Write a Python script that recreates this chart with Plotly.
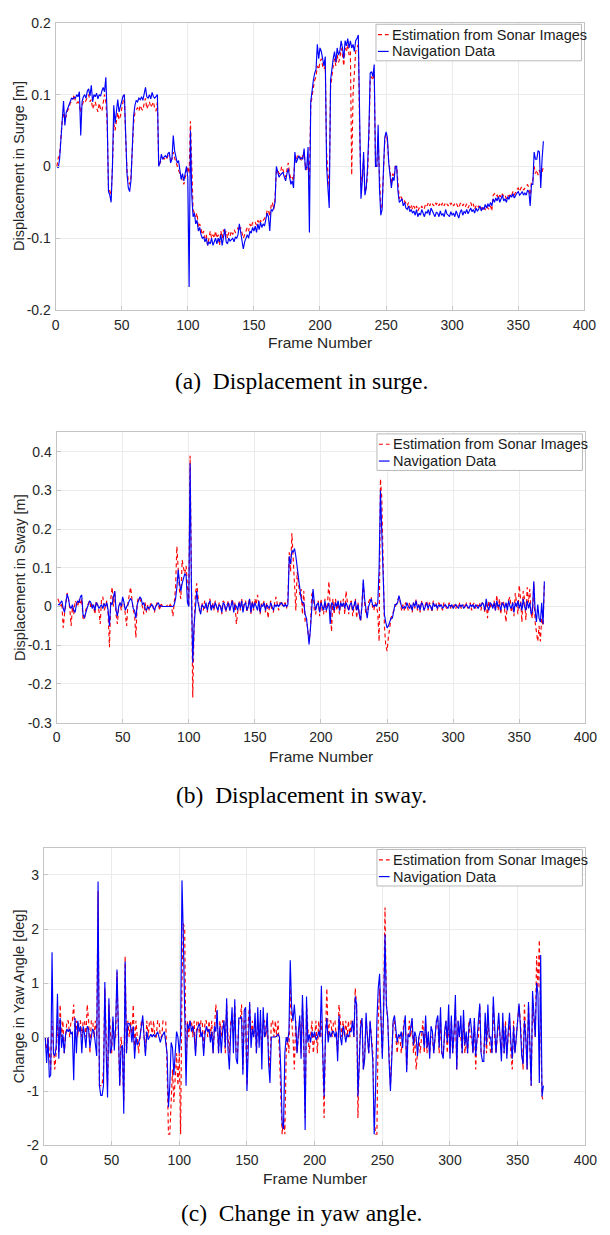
import plotly.graph_objects as go

# ---------------- data (frame-by-frame) ----------------
frames = list(range(1, 370))

surge_nav = [
    0.0, -0.002, 0.01, 0.04, 0.07, 0.091, 0.057, 0.075, 0.08, 0.085,
    0.093, 0.095, 0.094, 0.096, 0.095, 0.1, 0.097, 0.104, 0.043, 0.09,
    0.097, 0.1, 0.095, 0.105, 0.108, 0.098, 0.113, 0.09, 0.1, 0.097,
    0.102, 0.094, 0.1, 0.098, 0.105, 0.11, 0.104, 0.124, 0.07, -0.035,
    -0.04, -0.05, 0.0, 0.085, 0.06, 0.075, 0.093, 0.076, 0.085, 0.09,
    0.098, 0.1, 0.05, -0.01, -0.03, -0.035, -0.02, 0.03, 0.07, 0.085,
    0.092, 0.09, 0.095, 0.093, 0.097, 0.092, 0.1, 0.11, 0.097, 0.095,
    0.1, 0.094, 0.103, 0.097, 0.095, 0.098, 0.1, 0.0, 0.005, 0.017,
    0.01, 0.013, 0.015, 0.012, 0.018, 0.02, 0.005, 0.01, 0.043, 0.022,
    0.015, 0.005, 0.008, -0.005, -0.018, -0.01, -0.02, -0.01, 0.0, -0.015,
    -0.168, 0.05, -0.04, -0.07, -0.065, -0.08, -0.075, -0.09, -0.085, -0.095,
    -0.1, -0.098, -0.105, -0.1, -0.11, -0.105, -0.108, -0.1, -0.11, -0.105,
    -0.1, -0.108, -0.1, -0.105, -0.095, -0.11, -0.1, -0.087, -0.105, -0.108,
    -0.1, -0.104, -0.102, -0.1, -0.105, -0.098, -0.1, -0.095, -0.08, -0.09,
    -0.1, -0.115, -0.105, -0.1, -0.095, -0.1, -0.09, -0.093, -0.085, -0.09,
    -0.083, -0.092, -0.08, -0.088, -0.078, -0.085, -0.08, -0.083, -0.075, -0.065,
    -0.07, -0.09, -0.06, -0.062, -0.058, -0.05, 0.0, -0.01, -0.015, -0.012,
    -0.01, -0.008, -0.015, -0.02, -0.01, -0.003, -0.015, -0.025, -0.02, -0.03,
    0.02, 0.005, 0.01, 0.015, 0.01, 0.012, 0.01, 0.025, -0.005, 0.0,
    0.027, -0.092, 0.09, 0.11, 0.12, 0.13, 0.135, 0.17, 0.15, 0.165,
    0.16, 0.15, 0.14, 0.153, 0.0, -0.03, -0.058, 0.12, 0.14, 0.15,
    0.16, 0.145, 0.165, 0.155, 0.16, 0.175, 0.165, 0.15, 0.175, 0.168,
    0.178, 0.165, 0.175, 0.165, 0.17, 0.16, 0.175, 0.178, 0.183, 0.04,
    -0.045, -0.02, 0.02, -0.04, -0.03, 0.0, 0.05, 0.13, 0.132, 0.125,
    0.142, 0.0, 0.0, 0.058, -0.03, -0.068, -0.06, -0.005, 0.04, 0.048,
    0.04, 0.005, -0.01, -0.03, -0.015, -0.02, 0.0, 0.0, -0.035, -0.05,
    -0.048, -0.045, -0.055, -0.05, -0.058, -0.06, -0.055, -0.063, -0.06, -0.065,
    -0.062, -0.068, -0.06, -0.07, -0.065, -0.068, -0.06, -0.067, -0.07, -0.063,
    -0.065, -0.06, -0.068, -0.058, -0.062, -0.066, -0.07, -0.064, -0.065, -0.07,
    -0.062, -0.068, -0.066, -0.07, -0.06, -0.066, -0.068, -0.07, -0.063, -0.068,
    -0.065, -0.07, -0.062, -0.066, -0.072, -0.064, -0.06, -0.068, -0.063, -0.065,
    -0.06, -0.066, -0.062, -0.058, -0.063, -0.06, -0.065, -0.058, -0.062, -0.06,
    -0.055, -0.062, -0.057, -0.06, -0.053, -0.058, -0.052, -0.056, -0.05, -0.055,
    -0.045, -0.05, -0.044, -0.048, -0.042, -0.05, -0.045, -0.04, -0.048, -0.045,
    -0.05, -0.042, -0.046, -0.04, -0.043, -0.038, -0.044, -0.04, -0.037, -0.035,
    -0.04, -0.038, -0.035, -0.04, -0.037, -0.04, -0.033, -0.035, -0.055, -0.025,
    -0.025, 0.02, 0.01, 0.01, 0.022, 0.02, -0.03, 0.01, 0.035,
]

surge_est = [
    0.0, 0.012, 0.015, 0.04, 0.065, 0.075, 0.065, 0.07, 0.078, 0.08,
    0.088, 0.09, 0.093, 0.1, 0.09, 0.088, 0.09, 0.085, 0.075, 0.085,
    0.09, 0.088, 0.092, 0.095, 0.1, 0.09, 0.093, 0.08, 0.085, 0.09,
    0.082, 0.076, 0.088, 0.08, 0.077, 0.09, 0.1, 0.09, 0.06, -0.03,
    -0.035, -0.04, 0.0, 0.06, 0.05, 0.065, 0.075, 0.065, 0.07, 0.08,
    0.09, 0.1, 0.04, -0.005, -0.02, -0.025, -0.015, 0.02, 0.06, 0.075,
    0.08, 0.082, 0.077, 0.085, 0.08, 0.078, 0.088, 0.095, 0.08, 0.085,
    0.09, 0.082, 0.087, 0.09, 0.08, 0.077, 0.09, 0.0, 0.005, 0.01,
    0.012, 0.01, 0.012, 0.01, 0.015, 0.013, 0.01, 0.01, 0.02, 0.012,
    0.005, 0.0, -0.005, -0.01, -0.015, -0.022, -0.025, -0.015, -0.01, 0.0,
    -0.01, 0.063, 0.0, -0.06, -0.065, -0.07, -0.065, -0.085, -0.08, -0.09,
    -0.095, -0.09, -0.1, -0.095, -0.11, -0.1, -0.09, -0.1, -0.095, -0.1,
    -0.09, -0.1, -0.095, -0.11, -0.09, -0.1, -0.088, -0.095, -0.09, -0.1,
    -0.092, -0.097, -0.09, -0.095, -0.088, -0.092, -0.09, -0.085, -0.09, -0.085,
    -0.095, -0.1, -0.095, -0.09, -0.085, -0.09, -0.08, -0.085, -0.078, -0.08,
    -0.078, -0.082, -0.075, -0.08, -0.075, -0.078, -0.075, -0.072, -0.07, -0.062,
    -0.06, -0.07, -0.055, -0.05, -0.06, -0.045, -0.005, -0.005, -0.01, -0.01,
    0.0, -0.005, -0.01, -0.015, -0.005, 0.005, -0.01, -0.018, -0.015, -0.02,
    0.01, 0.01, 0.015, 0.012, 0.013, 0.008, 0.015, 0.018, 0.0, -0.005,
    0.005, -0.02, 0.085, 0.1, 0.11, 0.12, 0.125, 0.14, 0.135, 0.145,
    0.15, 0.14, 0.135, 0.14, 0.02, -0.01, -0.03, 0.11, 0.13, 0.14,
    0.15, 0.14, 0.155, 0.145, 0.15, 0.165, 0.155, 0.14, 0.165, 0.16,
    0.17, 0.155, 0.16, -0.012, 0.1, 0.14, 0.16, 0.165, 0.17, 0.05,
    -0.03, -0.01, 0.01, -0.035, -0.03, -0.01, 0.04, 0.12, 0.125, 0.12,
    0.13, 0.0, 0.0, 0.04, -0.025, -0.06, -0.055, 0.0, 0.035, 0.045,
    0.035, 0.005, -0.005, -0.025, -0.01, -0.015, 0.0, 0.0, -0.03, -0.045,
    -0.04, -0.045, -0.05, -0.048, -0.052, -0.055, -0.05, -0.058, -0.053, -0.06,
    -0.055, -0.06, -0.055, -0.062, -0.058, -0.06, -0.055, -0.06, -0.058, -0.052,
    -0.055, -0.05, -0.055, -0.05, -0.052, -0.055, -0.05, -0.053, -0.05, -0.055,
    -0.05, -0.054, -0.05, -0.055, -0.05, -0.052, -0.055, -0.05, -0.053, -0.05,
    -0.055, -0.052, -0.05, -0.055, -0.058, -0.052, -0.05, -0.055, -0.052, -0.056,
    -0.052, -0.058, -0.054, -0.05, -0.056, -0.052, -0.06, -0.055, -0.058, -0.055,
    -0.06, -0.057, -0.062, -0.058, -0.06, -0.055, -0.058, -0.06, -0.055, -0.062,
    -0.04, -0.038, -0.042, -0.04, -0.045, -0.04, -0.043, -0.038, -0.042, -0.04,
    -0.045, -0.04, -0.042, -0.038, -0.04, -0.035, -0.04, -0.035, -0.032, -0.03,
    -0.035, -0.03, -0.028, -0.033, -0.03, -0.028, -0.025, -0.03, -0.045, -0.02,
    -0.02, 0.0, -0.01, -0.005, -0.012, -0.005, -0.015, -0.008, 0.0,
]

sway_nav = [
    0.005, 0.005, 0.01, 0.015, -0.005, -0.015, 0.01, 0.032, 0.02, 0.0,
    -0.005, 0.005, -0.01, -0.015, 0.005, 0.015, 0.01, 0.025, 0.03, -0.02,
    -0.03, -0.015, -0.005, 0.005, 0.015, 0.01, -0.005, 0.005, -0.01, 0.01,
    0.005, -0.005, 0.0, 0.005, -0.005, 0.008, 0.0, 0.01, -0.01, -0.05,
    0.01, 0.005, 0.025, 0.04, -0.01, -0.025, 0.0, 0.01, 0.0, 0.025,
    0.01, -0.01, 0.0, 0.005, 0.015, 0.02, 0.015, -0.005, -0.01, -0.03,
    0.005, 0.015, 0.025, 0.02, 0.005, 0.01, -0.005, -0.01, 0.0, -0.005,
    0.0, 0.005, 0.0, -0.01, 0.0, 0.005, 0.01, 0.0, 0.002, 0.0,
    0.0, 0.0, 0.0, 0.0, 0.0, 0.0, 0.0, 0.0, 0.005, 0.02,
    0.05, 0.095, 0.06, 0.04, 0.06, 0.07, 0.085, 0.08, 0.01, 0.0,
    0.37, 0.05, -0.145, -0.05, 0.01, 0.04, 0.01, -0.01, -0.02, 0.005,
    0.0, -0.005, 0.01, -0.01, 0.005, 0.015, -0.01, 0.005, -0.005, 0.01,
    0.0, -0.01, 0.005, 0.0, -0.015, 0.01, 0.005, -0.01, 0.0, 0.01,
    -0.01, 0.0, 0.015, -0.015, 0.005, 0.0, -0.01, 0.01, -0.005, 0.015,
    -0.015, 0.005, 0.01, -0.01, 0.0, 0.02, -0.015, 0.01, -0.005, 0.01,
    0.0, -0.01, 0.015, -0.015, 0.005, 0.0, 0.01, -0.01, 0.005, 0.0,
    -0.005, 0.01, 0.0, -0.01, 0.005, 0.0, 0.005, 0.0, 0.005, 0.01,
    0.005, 0.0, 0.005, 0.0, 0.005, 0.13, 0.11, 0.145, 0.14, 0.15,
    0.13, 0.1, 0.07, 0.04, 0.02, 0.01, 0.01, -0.02, -0.03, -0.06,
    -0.098, -0.06, 0.01, 0.045, 0.01, -0.01, 0.005, 0.01, -0.015, 0.01,
    0.0, -0.01, 0.015, -0.01, 0.0, 0.01, -0.045, 0.01, 0.005, -0.01,
    0.01, 0.0, 0.015, -0.01, 0.01, 0.0, 0.01, -0.005, 0.01, 0.0,
    -0.01, 0.005, 0.01, -0.01, 0.0, 0.015, -0.01, 0.005, -0.02, -0.035,
    0.0, 0.07, 0.02, -0.01, -0.03, 0.0, 0.01, 0.02, 0.005, 0.0,
    0.005, 0.0, 0.01, 0.1, 0.3, 0.2, 0.05, -0.02, -0.04, -0.055,
    -0.05, -0.04, -0.03, -0.03, -0.01, 0.005, 0.005, 0.01, 0.028, 0.015,
    0.0, -0.005, 0.0, -0.005, 0.01, 0.0, -0.005, 0.005, -0.01, 0.01,
    0.0, 0.015, -0.005, 0.005, -0.01, 0.01, 0.005, -0.01, 0.0, 0.01,
    -0.005, 0.005, 0.0, -0.01, 0.01, 0.0, 0.005, -0.005, 0.005, 0.0,
    0.005, -0.005, 0.0, 0.005, 0.0, -0.005, 0.005, 0.0, 0.005, -0.005,
    0.0, 0.005, 0.0, -0.005, 0.005, 0.0, 0.005, -0.005, 0.0, 0.005,
    0.0, -0.005, 0.005, 0.0, 0.005, -0.005, 0.005, 0.0, -0.005, 0.005,
    0.0, 0.01, 0.005, -0.01, 0.02, 0.0, -0.01, 0.01, 0.005, -0.005,
    0.01, -0.01, 0.015, 0.0, 0.005, -0.01, 0.01, 0.005, -0.005, 0.01,
    -0.01, 0.015, 0.0, -0.005, 0.01, -0.015, 0.01, 0.0, 0.015, -0.005,
    0.01, -0.01, 0.02, 0.0, -0.01, 0.015, -0.005, 0.01, -0.02, -0.01,
    0.065, -0.01, -0.04, 0.005, -0.03, -0.04, 0.01, -0.045, 0.065,
]

sway_est = [
    0.02, 0.01, 0.0, 0.01, -0.055, -0.02, 0.01, 0.035, 0.02, -0.005,
    -0.05, 0.0, -0.02, 0.015, 0.01, 0.0, 0.02, 0.005, 0.02, -0.03,
    -0.035, -0.01, 0.0, 0.01, 0.015, -0.005, 0.005, 0.0, -0.02, 0.015,
    0.0, -0.01, -0.045, 0.02, 0.025, -0.01, 0.0, 0.015, -0.02, -0.105,
    0.02, 0.05, 0.0, 0.04, -0.02, -0.045, 0.0, 0.01, -0.01, 0.02,
    0.01, -0.02, -0.05, 0.01, 0.03, 0.05, 0.02, -0.01, -0.02, -0.08,
    0.01, 0.025, 0.02, 0.01, 0.0, -0.02, 0.01, -0.015, 0.005, -0.01,
    0.005, 0.01, -0.005, -0.015, 0.0, 0.01, 0.005, -0.01, 0.01, 0.0,
    0.005, 0.0, 0.0, 0.005, 0.0, 0.005, 0.0, -0.025, 0.01, 0.05,
    0.155, 0.08, 0.04, 0.02, 0.12, 0.1, 0.085, 0.105, 0.04, 0.0,
    0.39, 0.05, -0.235, -0.05, 0.03, 0.06, 0.02, -0.01, -0.015, 0.01,
    -0.01, 0.015, 0.0, -0.015, 0.01, 0.02, -0.01, 0.01, -0.01, 0.015,
    0.0, -0.015, 0.01, 0.005, -0.02, 0.015, 0.01, -0.015, 0.005, 0.015,
    -0.01, 0.01, 0.02, -0.01, 0.01, -0.045, -0.015, 0.015, -0.01, 0.02,
    -0.01, 0.01, 0.015, -0.015, 0.005, 0.02, -0.02, 0.015, -0.01, 0.02,
    0.005, 0.03, 0.01, -0.02, 0.01, 0.005, 0.015, -0.015, 0.01, -0.03,
    0.0, 0.015, -0.01, -0.015, 0.01, 0.025, 0.005, -0.01, 0.01, 0.015,
    0.0, 0.005, 0.01, -0.005, 0.02, 0.14, 0.09, 0.19, 0.13, 0.08,
    -0.01, 0.09, 0.05, 0.03, 0.045, -0.02, 0.04, -0.04, -0.03, -0.07,
    -0.09, -0.06, 0.03, 0.04, -0.01, -0.02, 0.01, 0.015, -0.025, 0.02,
    -0.01, -0.02, 0.02, -0.015, 0.01, 0.065, -0.02, -0.065, 0.02, -0.02,
    0.02, -0.01, 0.01, -0.02, 0.015, 0.0, 0.02, -0.02, 0.04, 0.0,
    -0.02, 0.01, 0.015, -0.025, 0.0, 0.02, -0.03, 0.01, -0.02, -0.04,
    0.01, 0.06, 0.01, -0.02, -0.025, 0.01, 0.02, 0.025, 0.0, -0.01,
    0.01, 0.005, -0.02, -0.09, 0.33, 0.28, 0.12, -0.05, -0.1, -0.115,
    -0.08, -0.05, -0.03, -0.02, -0.01, 0.0, 0.01, 0.015, 0.025, 0.01,
    -0.01, 0.005, -0.01, 0.01, 0.005, -0.01, 0.01, 0.0, -0.015, 0.01,
    -0.005, 0.02, -0.01, 0.005, -0.015, 0.015, 0.0, -0.01, 0.005, 0.015,
    -0.01, 0.01, 0.005, -0.015, 0.015, 0.0, 0.01, -0.01, 0.01, 0.005,
    0.0, -0.01, 0.01, 0.005, -0.005, 0.0, 0.01, -0.005, 0.005, 0.0,
    0.005, -0.005, 0.005, 0.0, 0.01, -0.005, 0.0, 0.005, -0.005, 0.01,
    -0.005, 0.0, 0.01, -0.01, 0.005, 0.01, -0.005, 0.005, 0.0, 0.01,
    -0.01, 0.01, 0.005, -0.015, 0.01, -0.03, 0.015, -0.005, 0.01, 0.0,
    0.015, -0.01, 0.03, -0.01, 0.02, -0.02, 0.01, 0.015, -0.01, -0.04,
    0.01, 0.02, 0.025, -0.015, 0.01, -0.025, 0.035, 0.01, -0.02, 0.055,
    0.02, -0.04, 0.04, 0.02, -0.035, 0.05, 0.01, 0.045, -0.02, -0.03,
    0.06, -0.04, -0.06, -0.09, -0.05, -0.09, -0.03, -0.05, 0.06,
]

yaw_nav = [
    0.0, -0.48, 0.0, -0.75, -0.7, 1.57, -0.3, -0.35, -0.2, 0.8,
    -0.4, 0.35, -0.2, 0.05, -0.3, 0.05, 0.15, 0.1, 0.15, 0.05,
    0.1, -0.8, 0.35, -0.3, 0.3, 0.1, 0.2, -0.3, 0.2, 0.05,
    -0.2, 0.2, 0.15, -0.2, 0.0, 0.15, 0.1, -0.1, -0.35, 2.88,
    -0.9, -1.08, -1.08, -0.9, 1.02, -0.3, -1.12, 0.72, -0.3, -0.2,
    0.38, -0.25, 0.2, 1.25, 0.1, -0.9, -0.2, -0.15, -1.42, 1.4,
    -0.3, 0.25, 0.25, 0.2, -0.1, 0.2, -0.4, 0.0, -0.15, -0.1,
    0.0, 0.2, 0.4, 0.0, -0.35, 0.1, -0.05, 0.0, 0.05, 0.0,
    0.05, 0.0, 0.05, 0.1, 0.0, -0.1, 0.0, 0.05, 0.1, -0.1,
    -0.3, -1.3, -0.9, -0.1, -0.2, -0.7, -0.35, 0.1, 0.0, -0.3,
    0.05, 2.9, 1.85, 0.3, -0.9, 0.25, 0.15, 0.3, 0.1, 0.2,
    0.05, -0.35, 0.1, 0.2, 0.25, 0.0, 0.1, -0.35, 0.05, 0.2,
    0.1, 0.15, -0.1, 0.1, -0.3, 0.2, 0.1, 0.5, -0.3, 0.2,
    -0.3, 0.1, 0.3, -0.2, 0.72, -0.25, -0.6, 0.1, 0.55, -0.3,
    0.7, -0.4, -0.5, 0.35, 0.35, 0.38, -0.7, 0.5, 0.55, -1.0,
    0.1, 0.65, -0.2, 0.15, 0.0, 0.45, -0.3, 0.55, -0.2, 0.5,
    -0.6, 0.55, 0.0, 0.1, 0.45, -0.5, -0.85, 0.0, 0.0, 0.0,
    0.0, 0.02, 0.05, 0.0, -0.6, -1.6, -1.7, -0.3, 0.0, -0.1,
    0.1, 1.42, 0.55, 0.3, 0.6, 0.25, -0.3, 0.1, 0.4, -0.4,
    0.78, 0.0, -1.72, 0.75, -0.1, 0.05, -0.1, 0.1, 0.0, 0.1,
    -0.05, 0.0, 0.1, 0.0, 0.95, -0.3, -1.1, 0.05, 0.35, -0.1,
    0.1, 0.0, 0.1, 0.1, 0.0, 0.1, -0.45, 0.4, 0.0, -0.15,
    0.2, 0.1, -0.1, 0.05, 0.0, 0.1, 0.1, 0.3, 0.0, 0.75,
    0.6, -1.1, -0.4, 0.2, 0.35, -0.6, -0.4, 0.45, 0.0, -0.3,
    0.3, 0.0, -0.45, -1.8, -1.0, 0.3, 0.9, 1.17, 0.4, -0.4,
    0.5, 1.9, 0.6, 0.35, -0.45, -1.0, -0.4, 0.3, 0.4, 0.1,
    -0.1, 0.05, 0.0, 0.1, -0.2, 0.2, 0.4, -0.65, 0.05, 0.0,
    0.2, 0.35, -0.15, 0.1, 0.0, -0.35, 0.0, 0.1, 0.1, 0.1,
    -0.2, 0.4, -0.2, 0.1, -0.4, 0.2, 0.1, -0.3, 0.0, 0.3,
    0.4, -0.2, 0.55, -0.3, -0.4, 0.1, 0.3, -0.1, 0.6, -0.4,
    0.4, -0.3, 0.1, 0.78, -0.6, 0.3, 0.0, 0.4, -0.3, 0.5,
    -0.15, 0.1, -0.3, 0.2, 0.35, 0.1, -0.3, 0.35, -0.35, 0.0,
    0.3, 0.62, -0.3, -0.45, -0.45, 0.45, -0.15, 0.6, 0.0, 0.0,
    -0.3, 0.75, 0.2, -0.3, 0.1, 0.45, 0.0, -0.45, 0.45, -0.3,
    0.2, -0.4, 0.1, 0.45, -0.1, -0.4, 0.2, -0.3, 0.0, 0.3,
    0.62, 0.2, -0.35, -0.5, 0.3, 0.0, -0.6, 0.65, -0.3, -0.9,
    0.85, 0.3, 0.0, 1.0, 0.8, -0.85, 1.52, -1.1, -0.9,
]

yaw_est = [
    0.0, -0.3, 0.0, -0.3, -0.6, 0.3, -0.3, -0.6, -0.3, 0.3,
    -0.3, 0.6, 0.0, 0.3, -0.3, 0.0, 0.3, 0.3, 0.0, 0.3,
    0.3, 0.6, 0.0, 0.3, 0.0, 0.3, 0.3, 0.0, 0.3, 0.3,
    0.0, 0.6, 0.3, -0.3, 0.3, 0.3, 0.0, 0.3, 0.0, 2.7,
    -0.9, -0.9, -0.9, -0.6, 0.9, 0.0, -0.9, 0.6, 0.0, -0.3,
    0.3, 0.0, 0.0, 1.2, 0.0, -0.9, 0.0, -0.3, -1.2, 1.5,
    -0.3, 0.3, 0.0, 0.3, 0.0, 0.6, -0.3, 0.3, 0.0, -0.3,
    0.0, 0.3, 0.3, 0.0, -0.3, 0.3, 0.0, 0.3, 0.3, 0.0,
    0.3, 0.0, 0.0, 0.3, 0.3, 0.0, 0.0, 0.3, 0.3, 0.3,
    -0.6, -1.8, -1.8, -1.2, -0.6, -1.2, -0.6, -0.3, -0.9, -0.3,
    -1.8, 1.0, 2.1, 2.0, -0.6, 0.3, 0.0, 0.3, 0.3, 0.0,
    0.3, -0.3, 0.3, 0.3, 0.0, 0.3, 0.3, -0.3, 0.3, 0.3,
    0.0, 0.3, 0.0, 0.3, -0.3, 0.3, 0.6, 0.3, -0.3, 0.3,
    0.0, 0.3, 0.3, -0.3, 0.6, 0.0, -0.3, 0.3, 0.3, 0.0,
    0.6, -0.3, -0.3, 0.3, 0.3, 0.6, -0.6, 0.3, 0.3, -0.9,
    0.3, 0.6, 0.0, 0.3, 0.0, 0.3, -0.3, 0.3, 0.0, 0.3,
    -0.3, 0.3, 0.3, 0.0, 0.3, -0.3, -0.6, 0.3, 0.3, 0.0,
    0.3, 0.0, 0.3, -0.3, -0.9, -1.8, -1.5, -1.8, -0.3, 0.0,
    -0.3, 0.9, 0.3, 0.0, -0.6, 0.3, -0.3, 0.0, 0.3, -0.3,
    0.6, -0.3, -1.5, 0.6, 0.0, -0.3, 0.0, 0.3, -0.3, 0.0,
    0.3, -0.3, 0.3, 0.0, 0.3, -0.3, -1.5, 0.0, 0.9, 0.0,
    0.3, 0.3, 0.0, 0.3, 0.3, 0.0, -0.3, 0.6, 0.3, 0.0,
    0.3, 0.0, 0.3, 0.0, 0.3, 0.0, 0.3, 0.3, 0.0, 0.9,
    0.6, -1.5, -0.3, 0.3, 0.3, -0.6, -0.3, 0.3, 0.0, -0.3,
    0.3, 0.0, -0.3, -1.5, -1.8, -1.8, 0.3, 0.9, 0.3, -0.3,
    0.6, 2.4, 0.6, 0.3, -0.3, -0.9, -0.3, 0.3, 0.3, 0.0,
    -0.3, 0.0, 0.0, -0.3, 0.0, 0.3, 0.3, -0.6, 0.0, 0.3,
    0.0, 0.3, -0.3, 0.0, -0.6, -0.3, 0.0, -0.3, 0.0, 0.3,
    -0.3, 0.3, -0.3, 0.0, -0.3, 0.0, 0.0, -0.3, 0.0, 0.3,
    0.3, -0.3, 0.3, -0.3, -0.3, 0.0, 0.3, -0.3, 0.3, -0.3,
    0.3, -0.3, 0.0, 0.6, -0.6, 0.3, 0.0, 0.0, -0.3, 0.3,
    -0.3, 0.0, -0.3, 0.3, 0.0, 0.0, -0.3, 0.3, -0.6, 0.0,
    0.0, 0.6, -0.3, -0.3, -0.3, 0.3, -0.3, 0.3, 0.0, -0.3,
    -0.3, 0.6, 0.0, -0.3, 0.0, 0.3, 0.0, -0.3, 0.3, -0.3,
    0.3, -0.3, 0.0, 0.3, -0.3, -0.6, 0.3, -0.3, 0.0, 0.3,
    0.6, 0.3, -0.3, -0.6, 0.6, 0.0, -0.6, 0.6, -0.3, -0.9,
    0.6, 0.3, 0.0, 1.5, 0.9, 1.8, 0.0, -1.1, -1.2,
]

# tick labels
x_ticks = [0, 50, 100, 150, 200, 250, 300, 350, 400]
x_ticktext = ["0", "50", "100", "150", "200", "250", "300", "350", "400"]
surge_ticks = [-0.2, -0.1, 0, 0.1, 0.2]
surge_ticktext = ["-0.2", "-0.1", "0", "0.1", "0.2"]
sway_ticks = [-0.3, -0.2, -0.1, 0, 0.1, 0.2, 0.3, 0.4]
sway_ticktext = ["-0.3", "-0.2", "-0.1", "0", "0.1", "0.2", "0.3", "0.4"]
yaw_ticks = [-2, -1, 0, 1, 2, 3]
yaw_ticktext = ["-2", "-1", "0", "1", "2", "3"]

name_est = "Estimation from Sonar Images"
name_nav = "Navigation Data"

# ---------------- figure ----------------
W, H = 610, 1235
RED = "#ff0000"
BLUE = "#0000ff"
TXT = "#262626"
GRID = "#ebebeb"
AXL = "#c4c4c4"
SANS = "Liberation Sans, Arial, Helvetica, sans-serif"
SERIF = "Liberation Serif, Times New Roman, Times, serif"
RED_DASH = "4px,3px"

fig = go.Figure()

panels = [
    ("x", "y", surge_est, surge_nav),
    ("x2", "y2", sway_est, sway_nav),
    ("x3", "y3", yaw_est, yaw_nav),
]
for xa, ya, est, nav in panels:
    fig.add_trace(go.Scatter(
        x=frames, y=est, mode="lines", name=name_est, xaxis=xa, yaxis=ya,
        showlegend=False, line=dict(color=RED, width=1.15, dash=RED_DASH)))
    fig.add_trace(go.Scatter(
        x=frames, y=nav, mode="lines", name=name_nav, xaxis=xa, yaxis=ya,
        showlegend=False, line=dict(color=BLUE, width=1.15)))


def px_x(p):
    return p / W


def px_y(p):
    return 1 - p / H


common_axis = dict(
    showgrid=True, gridcolor=GRID, gridwidth=1,
    showline=True, linecolor=AXL, linewidth=1, mirror=True,
    ticks="inside", ticklen=4, tickcolor=AXL,
    zeroline=False,
    tickfont=dict(family=SANS, size=14, color=TXT),
)

# plot area pixel boxes: (left, right, top, bottom)
boxes = [(53, 596, 15, 306), (54, 597, 430, 724), (41, 597, 851, 1152)]
yranges = [[-0.2, 0.2], [-0.3, 0.45], [-2, 3.5]]
yticks = [(surge_ticks, surge_ticktext), (sway_ticks, sway_ticktext), (yaw_ticks, yaw_ticktext)]

layout = dict(
    width=W, height=H,
    margin=dict(l=0, r=0, t=0, b=0),
    paper_bgcolor="white", plot_bgcolor="white",
    showlegend=False,
)
for i, (l, r, t, b) in enumerate(boxes):
    sfx = "" if i == 0 else str(i + 1)
    layout["xaxis" + sfx] = dict(
        common_axis, domain=[px_x(l), px_x(r)], range=[0, 400],
        tickvals=x_ticks, ticktext=x_ticktext,
        anchor="y" + sfx, ticklabelstandoff=2)
    layout["yaxis" + sfx] = dict(
        common_axis, domain=[px_y(b), px_y(t)], range=yranges[i],
        tickvals=yticks[i][0], ticktext=yticks[i][1],
        anchor="x" + sfx, ticklabelstandoff=1)
fig.update_layout(**layout)

# legend boxes (one per panel, top-right inside the axes)
shapes = []
ann = []
LEG_W, LEG_H = 211, 37
for i, (l, r, t, b) in enumerate(boxes):
    bx1 = r - 3
    bx0 = bx1 - LEG_W
    by0 = t + 1.5
    by1 = by0 + LEG_H
    shapes.append(dict(type="rect", xref="paper", yref="paper",
                       x0=px_x(bx0), x1=px_x(bx1), y0=px_y(by1), y1=px_y(by0),
                       line=dict(color="#b8b8b8", width=1), fillcolor="white",
                       layer="above"))
    rows = [(by0 + 10.5, RED, RED_DASH, name_est), (by0 + 27.5, BLUE, "solid", name_nav)]
    for yc, col, dsh, label in rows:
        shapes.append(dict(type="line", xref="paper", yref="paper",
                           x0=px_x(bx0 + 2), x1=px_x(bx0 + 13),
                           y0=px_y(yc), y1=px_y(yc),
                           line=dict(color=col, width=1.2, dash=dsh), layer="above"))
        ann.append(dict(text=label, x=px_x(bx0 + 14), y=px_y(yc),
                        xref="paper", yref="paper", showarrow=False,
                        xanchor="left", yanchor="middle",
                        font=dict(family=SANS, size=14.5, color="#1a1a1a")))

# axis titles and captions
ytitles = ["Displacement in Surge [m]", "Displacement in Sway [m]", "Change in Yaw Angle [deg]"]
captions = ["(a)  Displacement in surge.", "(b)  Displacement in sway.", "(c)  Change in yaw angle."]
xtitle_y = [339, 758, 1186]
caption_y = [378, 797, 1221]
ytitle_x = [16, 16, 15]

for i, (l, r, t, b) in enumerate(boxes):
    ann.append(dict(text="Frame Number", x=px_x((l + r) / 2), y=px_y(xtitle_y[i]),
                    xref="paper", yref="paper", showarrow=False,
                    xanchor="center", yanchor="middle",
                    font=dict(family=SANS, size=15.5, color=TXT)))
    ann.append(dict(text=ytitles[i], x=px_x(ytitle_x[i]), y=px_y((t + b) / 2),
                    xref="paper", yref="paper", showarrow=False, textangle=-90,
                    xanchor="center", yanchor="middle",
                    font=dict(family=SANS, size=14.5, color=TXT)))
    ann.append(dict(text=captions[i], x=px_x(305), y=px_y(caption_y[i]),
                    xref="paper", yref="paper", showarrow=False,
                    xanchor="center", yanchor="middle",
                    font=dict(family=SERIF, size=23.5, color="#000000")))

fig.update_layout(shapes=shapes, annotations=ann)

fig.write_html("out.html")
